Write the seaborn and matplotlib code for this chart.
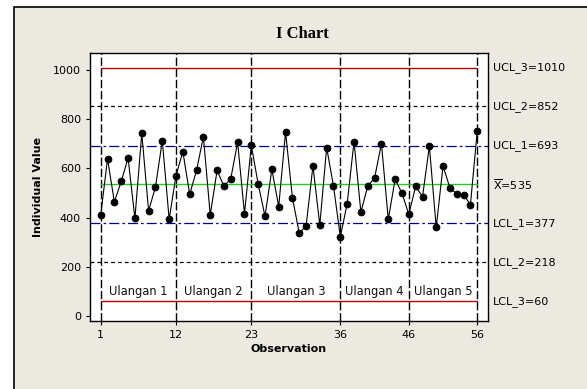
import seaborn as sns
import matplotlib.pyplot as plt
import matplotlib.transforms as mtransforms
from matplotlib.patches import Rectangle
import pandas as pd

# Individual values, 56 observations
values = [410, 638, 464, 547, 642, 397, 742, 428, 524, 713,
          393, 571, 668, 495, 592, 729, 410, 592, 527, 559,
          706, 416, 694, 536, 406, 596, 445, 748, 481, 337,
          366, 610, 370, 685, 528, 322, 457, 709, 422, 528,
          561, 701, 393, 556, 499, 414, 527, 485, 690, 361,
          610, 521, 497, 493, 453, 754]

# control limits
limit_names = ["UCL_3", "UCL_2", "UCL_1", "X", "LCL_1", "LCL_2", "LCL_3"]
limit_values = [1010, 852, 693, 535, 377, 218, 60]

# stages
stage_bounds = [1, 12, 23, 36, 46, 56]
stage_labels = ["Ulangan 1", "Ulangan 2", "Ulangan 3", "Ulangan 4", "Ulangan 5"]

x_ticks = [1, 12, 23, 36, 46, 56]
y_ticks = [0, 200, 400, 600, 800, 1000]


def main():
    df = pd.DataFrame({"Observation": range(1, len(values) + 1),
                       "Individual Value": values})

    sns.set_style("ticks")
    plt.rcParams["font.family"] = ["DejaVu Sans"]
    plt.rcParams["text.color"] = "black"
    plt.rcParams["axes.labelcolor"] = "black"

    fig = plt.figure(figsize=(5.87, 3.89), dpi=100, facecolor="white")
    bg = "#ECE9E0"
    fig.patches.append(Rectangle((14 / 587, -0.1), 1.2, (389 - 7) / 389 + 0.1,
                                 transform=fig.transFigure, facecolor=bg,
                                 edgecolor="black", linewidth=1.2, zorder=-5))
    ax = fig.add_axes([90 / 587, 68 / 389, 397.7 / 587, 268 / 389])
    ax.set_zorder(2)
    ax.set_facecolor("white")

    # limit lines
    red, blue, green = "#C00000", "#000090", "#22CC22"
    ax.plot([1, 56], [limit_values[0]] * 2, color=red, lw=1)
    ax.plot([1, 56], [limit_values[6]] * 2, color=red, lw=1)
    ax.plot([1, 56], [limit_values[3]] * 2, color=green, lw=1)
    for v in (limit_values[1], limit_values[5]):
        ax.axhline(v, color="black", lw=0.9, dashes=(3, 2.5))
    for v in (limit_values[2], limit_values[4]):
        ax.axhline(v, color=blue, lw=0.9, dashes=(8, 2.5, 2, 2.5))

    # stage dividers
    for b in stage_bounds:
        ax.axvline(b, color="black", lw=1, dashes=(6, 2), zorder=1)

    sns.lineplot(data=df, x="Observation", y="Individual Value", ax=ax,
                 color="black", lw=0.8, marker="o", markersize=4.8,
                 markeredgecolor="black", zorder=3)

    for i, lab in enumerate(stage_labels):
        xc = (stage_bounds[i] + stage_bounds[i + 1]) / 2
        ax.text(xc, 100, lab, ha="center", va="center", fontsize=8.3,
                color="#111111",
                bbox=dict(facecolor="white", edgecolor="none", pad=1.5),
                zorder=2)

    ax.set_xlim(-0.56, 57.52)
    ax.set_ylim(-20, 1069)
    ax.set_xticks(x_ticks)
    ax.set_yticks(y_ticks)
    ax.tick_params(labelsize=8, length=3, width=0.8, colors="black")
    for s in ax.spines.values():
        s.set_visible(True)
        s.set_color("black")
        s.set_linewidth(1)

    ax.set_xlabel("Observation", fontsize=8, fontweight="bold", labelpad=3)
    ax.set_ylabel("Individual Value", fontsize=8, fontweight="bold", labelpad=7)

    trans = mtransforms.blended_transform_factory(ax.transAxes, ax.transData)
    for name, v in zip(limit_names, limit_values):
        if name == "X":
            label = r"$\overline{\mathrm{X}}$=" + str(v)
        else:
            label = f"{name}={v}"
        ax.text(1.013, v, label, transform=trans, ha="left", va="center",
                fontsize=8, color="black")

    fig.text(0.515, 0.912, "I Chart", ha="center", va="center",
             fontsize=12, fontweight="bold", family="Liberation Serif")

    fig.savefig("out.png", dpi=100, facecolor=fig.get_facecolor())


if __name__ == "__main__":
    main()
